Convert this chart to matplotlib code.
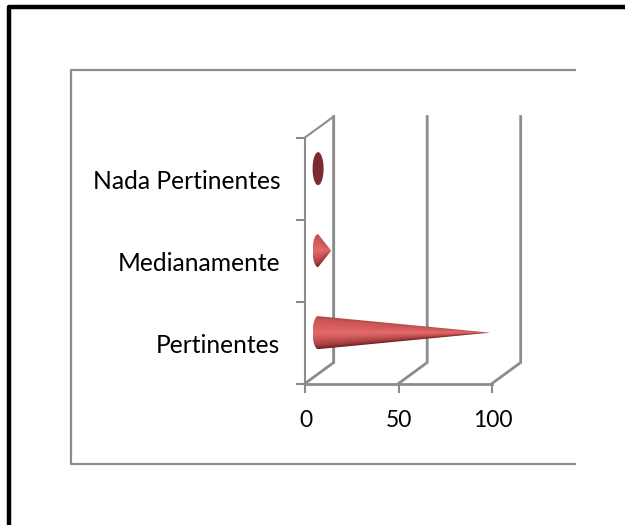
import matplotlib
matplotlib.use("Agg")
import matplotlib.pyplot as plt
from matplotlib.colors import LinearSegmentedColormap
from matplotlib.lines import Line2D
from matplotlib.patches import PathPatch
from matplotlib.path import Path
import numpy as np

plt.rcParams['font.family'] = ['Lato', 'DejaVu Sans']

categorias = ["Pertinentes", "Medianamente", "Nada Pertinentes"]
valores = [92, 7, 1]
ticks_x = [0, 50, 100]

W, H = 625, 525
GRIS = "#8c8c8c"

fig = plt.figure(figsize=(W / 100, H / 100), dpi=100)
fondo = fig.add_axes([0, 0, 1, 1])
fondo.set_xlim(0, W)
fondo.set_ylim(H, 0)
fondo.axis("off")

# marco negro y recuadro gris del grafico
fondo.add_line(Line2D([8.5, 8.5, 625], [525, 7, 7], color="black", lw=3.2))
fondo.add_line(Line2D([575, 71, 71, 575], [70, 70, 464, 464], color=GRIS, lw=1.6))

# ejes: 0 en x=305, 100 en x=492, categorias entre y=383 y y=137
ax = fig.add_axes([305 / W, 1 - 383.5 / H, 187 / W, 246 / H])
ax.set_xlim(0, 100)
ax.set_ylim(0, 3)
ax.axis("off")

# desplazamiento de profundidad en unidades de datos
dx = 28.7 / 187 * 100
dy = 21 / 82

for t in ticks_x:
    ax.plot([t, t + dx, t + dx], [0, dy, 3 + dy], color=GRIS, lw=2, clip_on=False,
            solid_joinstyle="miter")
    ax.plot([t, t], [0, -8 / 82], color=GRIS, lw=1.5, clip_on=False)
ax.plot([0, 100], [0, 0], color=GRIS, lw=2, clip_on=False)
ax.plot([0, 0, dx, dx], [0, 3, 3 + dy, dy], color=GRIS, lw=1.5, clip_on=False)
for i in range(4):
    ax.plot([-8 / 187 * 100, 0], [i, i], color=GRIS, lw=1.5, clip_on=False)

for t in ticks_x:
    ax.text(t + 0.5, -0.45, str(t), fontsize=16.5, ha="center", va="center", color="black")
for i, c in enumerate(categorias):
    ax.text(-13.2, i + 0.46, c, fontsize=17.7, ha="right", va="center", color="black")

# conos
cono = LinearSegmentedColormap.from_list(
    "cono", [(0, "#6a2022"), (0.1, "#a23c3c"), (0.28, "#c65352"), (0.5, "#e46c6b"),
             (0.68, "#d85f5e"), (0.88, "#c95655"), (1, "#b04848")])
x0 = 7
alto = 16.5 / 82
ancho = 5.5 / 187 * 100

for i, v in enumerate(valores):
    yc = i + 0.62
    if v < 2:
        # sin longitud: solo se ve la base
        th = np.linspace(0, 2 * np.pi, 60)
        ax.add_patch(PathPatch(Path(np.c_[x0 + ancho * np.cos(th), yc + alto * np.sin(th)]),
                               fc="#7a2c2e", ec="none", clip_on=False))
        continue
    th = np.linspace(np.pi / 2, 3 * np.pi / 2, 40)
    borde = np.c_[x0 + ancho * np.cos(th), yc + alto * np.sin(th)]
    pts = np.vstack([borde, [[x0 + v, yc]], borde[:1]])
    # sombreado que converge hacia la punta
    xs = np.linspace(x0 - ancho, x0 + v, 300)
    ys = np.linspace(-1, 1, 120)
    gx, gy = np.meshgrid(xs, ys)
    radio = np.clip(1 - (gx - x0) / v, 0.01, 1)
    grad = np.clip(gy / radio, -1, 1)
    img = ax.imshow(grad, cmap=cono, vmin=-1, vmax=1,
                    extent=[x0 - ancho, x0 + v, yc - alto, yc + alto],
                    aspect="auto", origin="lower", zorder=3, interpolation="bilinear")
    img.set_clip_path(Path(pts), transform=ax.transData)
ax.set_xlim(0, 100)
ax.set_ylim(0, 3)

fig.savefig("out.png", dpi=100)
